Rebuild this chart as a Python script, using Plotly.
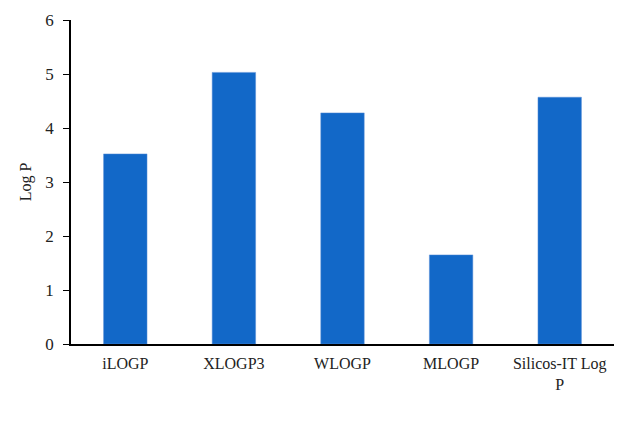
import plotly.graph_objects as go

# data
methods = ["iLOGP", "XLOGP3", "WLOGP", "MLOGP", "Silicos-IT Log<br>P"]
log_p = [3.52, 5.03, 4.28, 1.65, 4.57]

FONT = "Liberation Serif, DejaVu Serif, serif"

fig = go.Figure(
    go.Bar(
        x=methods,
        y=log_p,
        marker=dict(color="#1268c8", line=dict(color="#5a8fd6", width=0.5)),
    )
)

fig.update_layout(
    width=641,
    height=425,
    margin=dict(l=63, r=35, t=12, b=89),
    paper_bgcolor="white",
    plot_bgcolor="white",
    font=dict(family=FONT, size=16, color="#222"),
    bargap=0.6,
    showlegend=False,
)
fig.update_xaxes(
    showline=True, linecolor="black", linewidth=1.5,
    ticks="", showgrid=False,
    tickfont=dict(size=16),
    ticklabelstandoff=4,
    automargin=False,
)
fig.update_yaxes(
    range=[0, 6], dtick=1,
    showline=True, linecolor="black", linewidth=1.5,
    ticks="outside", ticklen=6, tickcolor="black",
    showgrid=False, zeroline=False,
    tickfont=dict(size=17),
    ticklabelstandoff=6,
    automargin=False,
    title=dict(text="Log P", font=dict(size=16), standoff=10),
)

fig.write_html("out.html")
